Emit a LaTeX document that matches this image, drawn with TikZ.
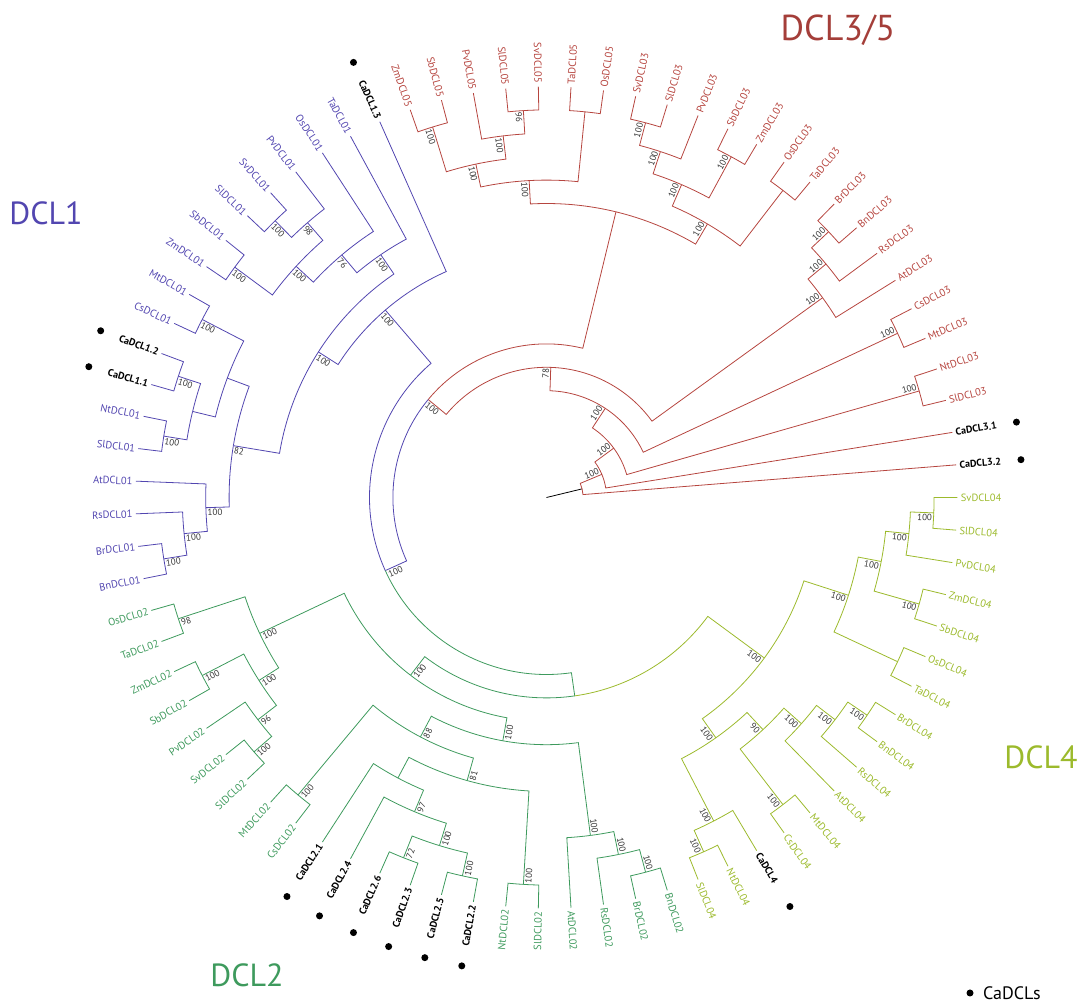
\documentclass[tikz,border=0pt]{standalone}
\usepackage{fontspec}
\setmainfont{PT Sans}
\usepackage{tikz}

\definecolor{dclred}{HTML}{B6453F}
\definecolor{dclblue}{HTML}{5246B0}
\definecolor{dclgreen}{HTML}{3E9A5D}
\definecolor{dclyel}{HTML}{9CBA2C}

\newcommand{\da}{4.556962}
\newcommand{\tipr}{411}
\newcommand{\lvl}{23.4}

\newcommand{\twig}[5]{%
    \draw[#1] ({#2*\da}:{\tipr-#3*\lvl}) arc[start angle={#2*\da}, end angle={#4*\da}, radius={\tipr-#3*\lvl}] -- ({#4*\da}:{\tipr-#5*\lvl});}

\newcommand{\tiplabel}[3]{%
    \pgfmathsetmacro{\tang}{#2*\da}%
    \pgfmathtruncatemacro{\lft}{(\tang>90)&&(\tang<270)}%
    \ifnum\lft=1
        \node[#1, rotate=\tang-180, anchor=east] (l#2) at (\tang:412) {#3};
    \else
        \node[#1, rotate=\tang, anchor=west] (l#2) at (\tang:412) {#3};
    \fi}

\newcommand{\bootval}[4]{%
    \pgfmathsetmacro{\tang}{#2*\da}%
    \pgfmathsetmacro{\trad}{\tipr-#3*\lvl}%
    \pgfmathtruncatemacro{\lft}{(\tang>90)&&(\tang<270)}%
    \ifnum\lft=1
        \node[boot, rotate=\tang-180, anchor=north west] (b#1) at (\tang:\trad) {#4};
    \else
        \node[boot, rotate=\tang, anchor=south east] (b#1) at (\tang:\trad) {#4};
    \fi}

\newcommand{\bootcw}[4]{%
    \pgfmathsetmacro{\tang}{#2*\da}%
    \pgfmathsetmacro{\trad}{\tipr-#3*\lvl}%
    \node[boot, rotate=\tang, anchor=north east] (b#1) at (\tang:\trad) {#4};}

\tikzset{
    tip/.style={font=\fontsize{10.5}{12}\selectfont, inner sep=2pt},
    catip/.style={tip, font=\fontsize{10}{12}\selectfont\bfseries, text=black},
    boot/.style={font=\fontsize{9}{10}\selectfont, inner sep=1.2pt, text=black!80},
    title/.style={font=\fontsize{32}{36}\selectfont},
    dot/.style={circle, fill=black, inner sep=0pt, minimum size=7pt}
}

\begin{document}
\begin{tikzpicture}[x=1pt, y=1pt, line width=0.8pt]
        \useasboundingbox (-546.5,-508.5) rectangle (533.5,497.5);

        \draw (0,0) -- ({2.9899*\da}:36.6);

        \foreach \p/\hp/\c/\hc in {2.9899/16/1/0, 2.9899/16/4.9798/15, 4.9798/15/2/0, 4.9798/15/7.9596/14,
            7.9596/14/3.5/1, 7.9596/14/12.4192/13, 3.5/1/3/0, 3.5/1/4/0,
            12.4192/13/5.5/1, 12.4192/13/19.3384/12, 5.5/1/5/0, 5.5/1/6/0,
            19.3384/12/7.875/3, 19.3384/12/30.8018/11, 7.875/3/7/0, 7.875/3/8.75/2,
            8.75/2/8/0, 8.75/2/9.5/1, 9.5/1/9/0, 9.5/1/10/0,
            30.8018/11/16.75/5, 16.75/5/13.0625/4, 16.75/5/20.4375/4,
            13.0625/4/11.5/1, 13.0625/4/14.625/3, 11.5/1/11/0, 11.5/1/12/0,
            14.625/3/13.5/1, 14.625/3/15.75/2, 13.5/1/13/0, 13.5/1/14/0,
            15.75/2/15/0, 15.75/2/16.5/1, 16.5/1/16/0, 16.5/1/17/0,
            20.4375/4/18.5/1, 20.4375/4/22.375/3, 18.5/1/18/0, 18.5/1/19/0,
            22.375/3/21.25/2, 22.375/3/23.5/1, 21.25/2/20.5/1, 21.25/2/22/0,
            20.5/1/20/0, 20.5/1/21/0, 23.5/1/23/0, 23.5/1/24/0}
            {\twig{dclred}{\p}{\hp}{\c}{\hc}}

        \foreach \p/\hp/\c/\hc in {30.8018/11/44.8535/10, 44.8535/10/28.6797/7,
            28.6797/7/25/0, 28.6797/7/32.3594/6, 32.3594/6/27.2813/5, 32.3594/6/37.4375/4,
            27.2813/5/26/0, 27.2813/5/28.5625/4, 28.5625/4/27/0, 28.5625/4/30.125/3,
            30.125/3/28.75/2, 30.125/3/31.5/1, 28.75/2/28/0, 28.75/2/29.5/1,
            29.5/1/29/0, 29.5/1/30/0, 31.5/1/31/0, 31.5/1/32/0,
            37.4375/4/35/3, 37.4375/4/39.875/3, 35/3/33.5/1, 35/3/36.5/2,
            33.5/1/33/0, 33.5/1/34/0, 36.5/2/35.5/1, 36.5/2/37.5/1,
            35.5/1/35/0, 35.5/1/36/0, 37.5/1/37/0, 37.5/1/38/0,
            39.875/3/39/0, 39.875/3/40.75/2, 40.75/2/40/0, 40.75/2/41.5/1,
            41.5/1/41/0, 41.5/1/42/0}
            {\twig{dclblue}{\p}{\hp}{\c}{\hc}}

        \foreach \p/\hp/\c/\hc in {44.8535/10/61.0273/9, 61.0273/9/51.0391/8,
            51.0391/8/45.0625/4, 51.0391/8/57.0156/7, 45.0625/4/43.5/1, 45.0625/4/46.625/3,
            43.5/1/43/0, 43.5/1/44/0, 46.625/3/45.5/1, 46.625/3/47.75/2,
            45.5/1/45/0, 45.5/1/46/0, 47.75/2/47/0, 47.75/2/48.5/1,
            48.5/1/48/0, 48.5/1/49/0, 57.0156/7/53.1563/6, 57.0156/7/60.875/3,
            53.1563/6/50.5/1, 53.1563/6/55.8125/5, 50.5/1/50/0, 50.5/1/51/0,
            55.8125/5/53.125/4, 55.8125/5/58.5/1, 53.125/4/52/0, 53.125/4/54.25/3,
            54.25/3/53/0, 54.25/3/55.5/2, 55.5/2/54.5/1, 55.5/2/56.5/1,
            54.5/1/54/0, 54.5/1/55/0, 56.5/1/56/0, 56.5/1/57/0,
            58.5/1/58/0, 58.5/1/59/0, 60.875/3/60/0, 60.875/3/61.75/2,
            61.75/2/61/0, 61.75/2/62.5/1, 62.5/1/62/0, 62.5/1/63/0}
            {\twig{dclgreen}{\p}{\hp}{\c}{\hc}}

        \foreach \p/\hp/\c/\hc in {61.0273/9/71.0156/6,
            71.0156/6/66.9688/5, 71.0156/6/75.0625/4, 66.9688/5/65.25/2, 66.9688/5/68.6875/4,
            65.25/2/64.5/1, 65.25/2/66/0, 64.5/1/64/0, 64.5/1/65/0,
            68.6875/4/67.5/1, 68.6875/4/69.875/3, 67.5/1/67/0, 67.5/1/68/0,
            69.875/3/69/0, 69.875/3/70.75/2, 70.75/2/70/0, 70.75/2/71.5/1,
            71.5/1/71/0, 71.5/1/72/0, 75.0625/4/73.5/1, 75.0625/4/76.625/3,
            73.5/1/73/0, 73.5/1/74/0, 76.625/3/75.5/1, 76.625/3/77.75/2,
            75.5/1/75/0, 75.5/1/76/0, 77.75/2/77/0, 77.75/2/78.5/1,
            78.5/1/78/0, 78.5/1/79/0}
            {\twig{dclyel}{\p}{\hp}{\c}{\hc}}

        \foreach \i/\t in {3/SlDCL03, 4/NtDCL03, 5/MtDCL03, 6/CsDCL03, 7/AtDCL03, 8/RsDCL03,
            9/BnDCL03, 10/BrDCL03, 11/TaDCL03, 12/OsDCL03, 13/ZmDCL03, 14/SbDCL03, 15/PvDCL03,
            16/SlDCL03, 17/SvDCL03, 18/OsDCL05, 19/TaDCL05, 20/SvDCL05, 21/SlDCL05, 22/PvDCL05,
            23/SbDCL05, 24/ZmDCL05}
            {\tiplabel{tip, text=dclred}{\i}{\t}}
        \foreach \i/\t in {26/TaDCL01, 27/OsDCL01, 28/PvDCL01, 29/SvDCL01, 30/SlDCL01, 31/SbDCL01,
            32/ZmDCL01, 33/MtDCL01, 34/CsDCL01, 37/NtDCL01, 38/SlDCL01, 39/AtDCL01, 40/RsDCL01,
            41/BrDCL01, 42/BnDCL01}
            {\tiplabel{tip, text=dclblue}{\i}{\t}}
        \foreach \i/\t in {43/OsDCL02, 44/TaDCL02, 45/ZmDCL02, 46/SbDCL02, 47/PvDCL02, 48/SvDCL02,
            49/SlDCL02, 50/MtDCL02, 51/CsDCL02, 58/NtDCL02, 59/SlDCL02, 60/AtDCL02, 61/RsDCL02,
            62/BrDCL02, 63/BnDCL02}
            {\tiplabel{tip, text=dclgreen}{\i}{\t}}
        \foreach \i/\t in {64/SlDCL04, 65/NtDCL04, 67/CsDCL04, 68/MtDCL04, 69/AtDCL04, 70/RsDCL04,
            71/BnDCL04, 72/BrDCL04, 73/TaDCL04, 74/OsDCL04, 75/SbDCL04, 76/ZmDCL04, 77/PvDCL04,
            78/SlDCL04, 79/SvDCL04}
            {\tiplabel{tip, text=dclyel}{\i}{\t}}
        \foreach \i/\t in {1/CaDCL3.2, 2/CaDCL3.1, 25/CaDCL1.3, 35/CaDCL1.2, 36/CaDCL1.1,
            52/CaDCL2.1, 53/CaDCL2.4, 54/CaDCL2.6, 55/CaDCL2.3, 56/CaDCL2.5, 57/CaDCL2.2, 66/CaDCL4}
            {\tiplabel{catip}{\i}{\t}
             \node[dot] (d\i) at ({\i*\da}:476) {};}

        \foreach \nm/\i/\h/\v in {n1/4.9798/15/100, n2/7.9596/14/100, n3/12.4192/13/100,
            n4/19.3384/12/78, n5/30.8018/11/100, r3/3.5/1/100, r5/5.5/1/100, at3/7.875/3/100,
            r8/8.75/2/100, r9/9.5/1/100, mc3/13.0625/4/100, mc3x/14.625/3/100, r13/13.5/1/100,
            r15/15.75/2/100, r16/16.5/1/100, d5/20.4375/4/100, d5x/22.375/3/100, r21/21.25/2/100,
            r20/20.5/1/96, r23/23.5/1/100,
            p3/44.8535/10/100, p2/28.6797/7/100, p1/32.3594/6/100, mono1/27.2813/5/100,
            m1y/28.5625/4/76, m1x/30.125/3/100, u28/28.75/2/98, u29/29.5/1/100, u31/31.5/1/100,
            n82/37.4375/4/82, u33/33.5/1/100, u35/35.5/1/100, u37/37.5/1/100, at1/39.875/3/100,
            u40/40.75/2/100, u41/41.5/1/100,
            d2/51.0391/8/100, mono2/45.0625/4/100, g43/43.5/1/98, m2x/46.625/3/100,
            g45/45.5/1/100, g47/47.75/2/96, g48/48.5/1/100, g50/50.5/1/100, x/57.0156/7/100,
            v/53.1563/6/88, w/55.8125/5/81, ca2y/54.25/3/97, ca2x/55.5/2/100, g54/54.5/1/72,
            g56/56.5/1/100, g58/58.5/1/100, at2/60.875/3/100, g61/61.75/2/100, g62/62.5/1/100}
            {\bootval{\nm}{\i}{\h}{\v}}
        \foreach \nm/\i/\h/\v in {d4/71.0156/6/100, dc4/66.9688/5/100, y65/65.25/2/100,
            y64/64.5/1/100, n90/68.6875/4/90, y67/67.5/1/100, at4/69.875/3/100, y70/70.75/2/100,
            y71/71.5/1/100, mc4/75.0625/4/100, m4x/76.625/3/100, y75/75.5/1/100,
            y77/77.75/2/100, y78/78.5/1/100}
            {\bootcw{\nm}{\i}{\h}{\v}}

        \node[title, font=\fontsize{36}{40}\selectfont, text=dclred!90!black] (t35) at (291.5,467.5) {DCL3/5};
        \node[title, text=dclblue] (t1) at (-500.5,284.5) {DCL1};
        \node[title, text=dclgreen] (t2) at (-299.5,-477.5) {DCL2};
        \node[title, text=dclyel] (t4) at (494.5,-259.5) {DCL4};

        \node[dot] (key) at (423.5,-495.5) {};
        \node[anchor=west, font=\fontsize{18}{20}\selectfont] (keytext) at (433,-495.5) {CaDCLs};
\end{tikzpicture}
\end{document}
